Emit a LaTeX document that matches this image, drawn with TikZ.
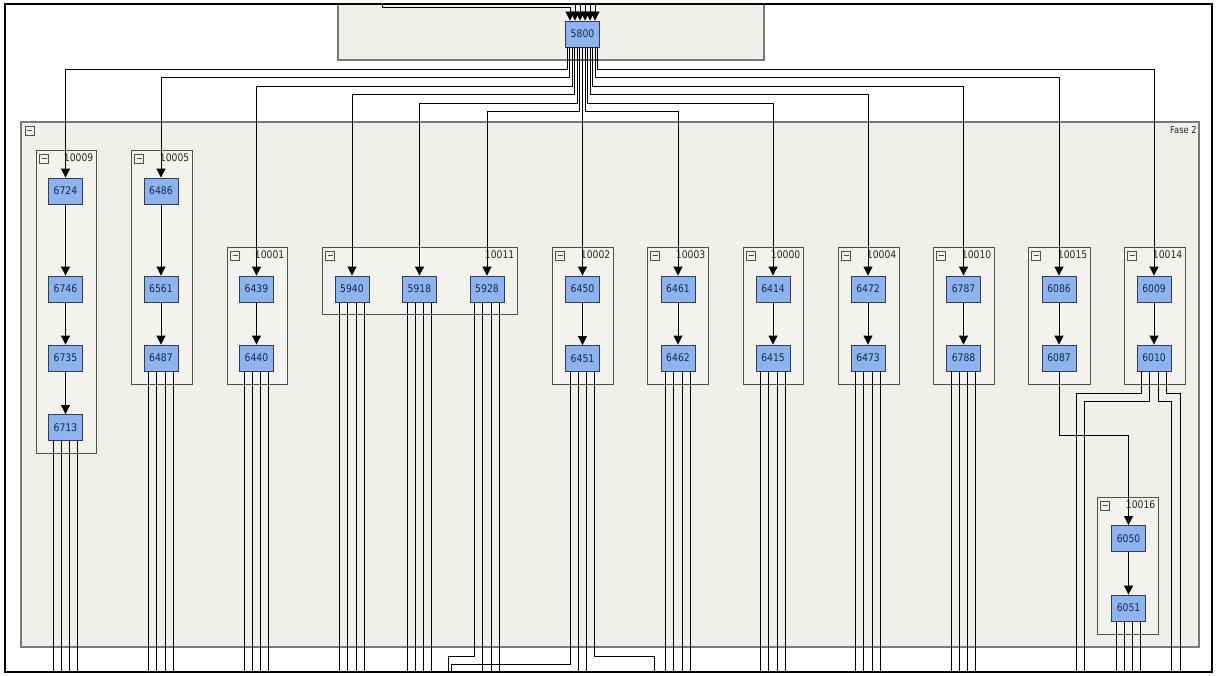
\documentclass[tikz,border=0pt]{standalone}
\usepackage{fontspec}
\newfontfamily\tah{DejaVu Sans}[FakeStretch=0.88]
\usetikzlibrary{arrows.meta}
\definecolor{contf}{RGB}{240,239,233}
\definecolor{grpf}{RGB}{243,242,236}
\definecolor{nodef}{RGB}{141,180,238}
\definecolor{noded}{RGB}{50,62,85}
\definecolor{txt}{RGB}{25,40,70}
\definecolor{bord}{RGB}{120,120,120}
\definecolor{gbord}{RGB}{80,80,80}
\newcommand\mkgroup[6]{%
  \draw[grpbox] (#2,#3) rectangle (#4,#5);
  \node[iconbox] (#1i) at ({#2+8},{#3+8.5}) {};
  \draw[gbord, line width=0.8pt] ({#2+5.5},{#3+8.5}) -- ({#2+10.5},{#3+8.5});
  \node[glabel] (#1l) at ({#4-2.5},{#3+8}) {#6};
}
\begin{document}
\begin{tikzpicture}[x=1pt,y=-1pt,
  nd/.style={draw=noded, fill=nodef, line width=0.9pt, minimum width=34pt, minimum height=26pt, inner sep=0pt, font=\tah\fontsize{10.5}{10.5}\selectfont, text=txt},
  arr/.style={line width=1pt, -{Triangle[width=9pt,length=9pt]}},
  ln/.style={line width=1pt},
  grpbox/.style={draw=gbord, fill=grpf, line width=1pt},
  contbox/.style={draw=bord, fill=contf, line width=1.1pt},
  glabel/.style={anchor=east, inner sep=0pt, font=\tah\fontsize{10.5}{10.5}\selectfont, text=black!85},
  iconbox/.style={draw=gbord, line width=0.8pt, minimum size=9pt, inner sep=0pt, fill=grpf}]
\useasboundingbox (0,0) rectangle (1216,675);
\fill[white] (0,0) rectangle (1216,675);
% containers
\draw[contbox] (338,4) rectangle (764,60);
\draw[contbox] (21,122) rectangle (1199,647);
\node[iconbox] (faseI) at (29.5,130.5) {};
\draw[gbord, line width=0.8pt] (27,130.5) -- (32,130.5);
\node[glabel, font=\tah\fontsize{9.5}{9.5}\selectfont] (faseL) at (1197,130) {Fase 2};
% groups
\mkgroup{g10009}{36}{150}{96}{453}{10009}
\mkgroup{g10005}{131}{150}{192}{384}{10005}
\mkgroup{g10001}{227}{247}{287}{384}{10001}
\mkgroup{g10011}{322}{247}{517}{314}{10011}
\mkgroup{g10002}{552}{247}{613}{384}{10002}
\mkgroup{g10003}{647}{247}{708}{384}{10003}
\mkgroup{g10000}{743}{247}{803}{384}{10000}
\mkgroup{g10004}{838}{247}{899}{384}{10004}
\mkgroup{g10010}{933}{247}{994}{384}{10010}
\mkgroup{g10015}{1028}{247}{1090}{384}{10015}
\mkgroup{g10014}{1124}{247}{1185}{384}{10014}
\mkgroup{g10016}{1097}{497}{1158}{634}{10016}
% nodes
\node[nd] (n5800) at (582.5,34) {5800};
\node[nd] (n6724) at (65.5,191) {6724};
\node[nd] (n6746) at (65.5,289) {6746};
\node[nd] (n6735) at (65.5,358) {6735};
\node[nd] (n6713) at (65.5,427.5) {6713};
\node[nd] (n6486) at (161,191) {6486};
\node[nd] (n6561) at (161,289) {6561};
\node[nd] (n6487) at (161,358) {6487};
\node[nd] (n6439) at (256.5,289) {6439};
\node[nd] (n6440) at (256.5,358) {6440};
\node[nd] (n5940) at (352,289) {5940};
\node[nd] (n5918) at (419.5,289) {5918};
\node[nd] (n5928) at (487,289) {5928};
\node[nd] (n6450) at (582.5,289) {6450};
\node[nd] (n6451) at (582.5,358.5) {6451};
\node[nd] (n6461) at (678,289) {6461};
\node[nd] (n6462) at (678,358) {6462};
\node[nd] (n6414) at (773,289) {6414};
\node[nd] (n6415) at (773,358) {6415};
\node[nd] (n6472) at (868,289) {6472};
\node[nd] (n6473) at (868,358) {6473};
\node[nd] (n6787) at (963.5,289) {6787};
\node[nd] (n6788) at (963.5,358) {6788};
\node[nd] (n6086) at (1059,289) {6086};
\node[nd] (n6087) at (1059,358) {6087};
\node[nd] (n6009) at (1154,289) {6009};
\node[nd] (n6010) at (1154,358) {6010};
\node[nd] (n6050) at (1128.5,538.5) {6050};
\node[nd] (n6051) at (1128.5,608) {6051};
% helper coordinates
\coordinate (top) at (0,4);
\coordinate (bot) at (0,672);
\coordinate (in1) at (382,4);
\coordinate (in1b) at (382,7);
\coordinate (hA) at (0,69);
\coordinate (hB) at (0,77.5);
\coordinate (hC) at (0,86);
\coordinate (hD) at (0,94.5);
\coordinate (hE) at (0,103);
\coordinate (hF) at (0,111.5);
\coordinate (h6087) at (0,435.7);
\coordinate (r5928) at (448.3,656);
\coordinate (r6451a) at (451.7,664.3);
\coordinate (r6451b) at (654,656);
\coordinate (r6010a) at (1076.7,393.3);
\coordinate (r6010b) at (1084.3,401.7);
\coordinate (r6010c) at (1171.7,401.7);
\coordinate (r6010d) at (1180,393.3);
% incoming edges into 5800
\draw[arr] (in1) -- (in1b) -| ([xshift=-12.5pt]n5800.north);
\foreach \dx in {-7.5,-2.5,2.5,7.5,12.5}
  \draw[arr] ([xshift=\dx pt]n5800.north |- top) -- ([xshift=\dx pt]n5800.north);
% outgoing edges from 5800
\foreach \dx/\hh/\tgt in {-15.4/hA/n6724, -12.8/hB/n6486, -10.2/hC/n6439, -7.7/hD/n5940, -5.1/hE/n5918, -2.6/hF/n5928, 2.6/hF/n6461, 5.1/hE/n6414, 7.7/hD/n6472, 10.2/hC/n6787, 12.8/hB/n6086, 15.4/hA/n6009}
  \draw[arr] ([xshift=\dx pt]n5800.south) |- (\tgt |- \hh) -- (\tgt);
\draw[arr] (n5800) -- (n6450);
% edges inside groups
\draw[arr] (n6724) -- (n6746);
\draw[arr] (n6746) -- (n6735);
\draw[arr] (n6735) -- (n6713);
\draw[arr] (n6486) -- (n6561);
\draw[arr] (n6561) -- (n6487);
\draw[arr] (n6439) -- (n6440);
\draw[arr] (n6450) -- (n6451);
\draw[arr] (n6461) -- (n6462);
\draw[arr] (n6414) -- (n6415);
\draw[arr] (n6472) -- (n6473);
\draw[arr] (n6787) -- (n6788);
\draw[arr] (n6086) -- (n6087);
\draw[arr] (n6009) -- (n6010);
\draw[arr] (n6050) -- (n6051);
\draw[arr] (n6087.south) |- (n6050 |- h6087) -- (n6050);
% outgoing lines leaving the picture
\foreach \n in {n6713,n6487,n6440,n5940,n5918,n6462,n6415,n6473,n6788,n6051}
  \foreach \dx in {-12.3,-4.1,4.1,12.3}
    \draw[ln] ([xshift=\dx pt]\n.south) -- ([xshift=\dx pt]\n.south |- bot);
\foreach \dx in {-4.1,4.1,12.3}
  \draw[ln] ([xshift=\dx pt]n5928.south) -- ([xshift=\dx pt]n5928.south |- bot);
\draw[ln] ([xshift=-12.3pt]n5928.south) |- (r5928) -- (r5928 |- bot);
\foreach \dx in {-4.1,4.1}
  \draw[ln] ([xshift=\dx pt]n6451.south) -- ([xshift=\dx pt]n6451.south |- bot);
\draw[ln] ([xshift=-12.3pt]n6451.south) |- (r6451a) -- (r6451a |- bot);
\draw[ln] ([xshift=12.3pt]n6451.south) |- (r6451b) -- (r6451b |- bot);
\draw[ln] ([xshift=-12.3pt]n6010.south) |- (r6010a) -- (r6010a |- bot);
\draw[ln] ([xshift=-4.1pt]n6010.south) |- (r6010b) -- (r6010b |- bot);
\draw[ln] ([xshift=4.1pt]n6010.south) |- (r6010c) -- (r6010c |- bot);
\draw[ln] ([xshift=12.3pt]n6010.south) |- (r6010d) -- (r6010d |- bot);
% frame
\draw[line width=2pt] (5,4) rectangle (1212,672);
\end{tikzpicture}
\end{document}
